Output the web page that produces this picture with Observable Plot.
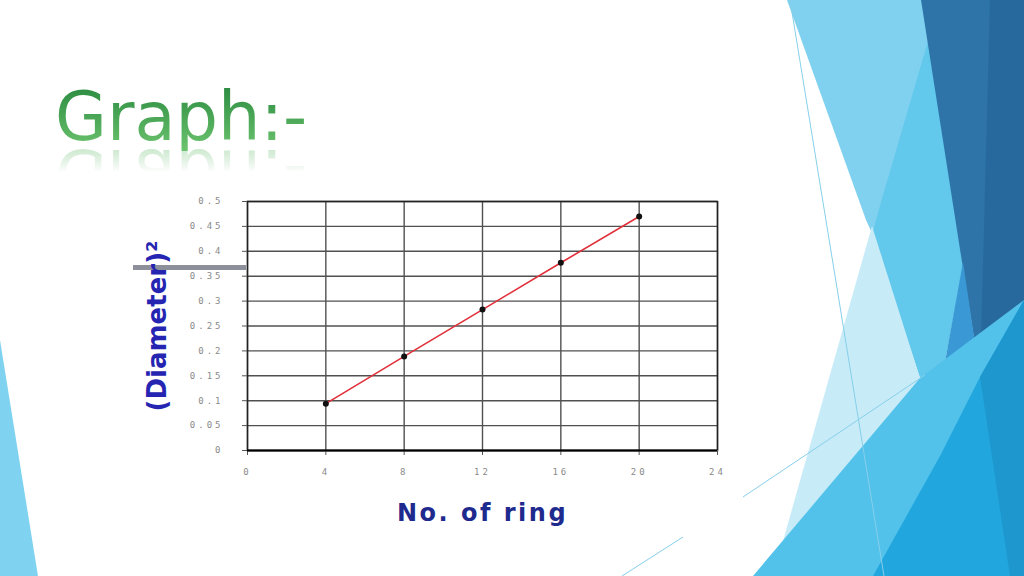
<!DOCTYPE html>
<html>
<head>
<meta charset="utf-8">
<script src="https://cdn.jsdelivr.net/npm/d3@7"></script>
<script src="https://cdn.jsdelivr.net/npm/@observablehq/plot@0.6"></script>
<style>
  html, body { margin: 0; padding: 0; background: #fff; }
  #slide { position: relative; width: 1024px; height: 576px; overflow: hidden; background: #fff; }
  #deco { position: absolute; left: 0; top: 0; }
  .title {
    position: absolute; left: 55px; top: 84px;
    font: 67px/67px "DejaVu Sans", sans-serif;
    background: linear-gradient(#2a8a40, #6cc46e);
    -webkit-background-clip: text; background-clip: text; color: transparent;
    -webkit-box-reflect: below -12px linear-gradient(transparent 50%, rgba(255,255,255,0.45));
  }
  #bar { position: absolute; left: 133px; top: 265px; width: 113px; height: 5px; background: #8d909a; }
  #chart { position: absolute; left: 130px; top: 180px; }
  #chart svg { overflow: visible; }
  #chart [aria-label="y-axis tick label"] text,
  #chart [aria-label="x-axis tick label"] text { font-size: 9px; fill: #8a8a8a; letter-spacing: 3px; font-family: "DejaVu Sans Mono", monospace; }
  #chart [aria-label="x-axis label"] text { font: bold 24px "DejaVu Sans", sans-serif; fill: #1f2a8e; letter-spacing: 2.5px; }
  #chart [aria-label="y-axis label"] text { font: bold 26px "DejaVu Sans", sans-serif; fill: #2525b2; }
</style>
</head>
<body>
<div id="slide">
  <svg id="deco" width="1024" height="576">
    <polygon points="0,340 38,576 0,576" fill="#7fd3f0"/>
    <polygon points="787,0 945,0 872,233 866,220" fill="#80d1ef"/>
    <polygon points="940,0 985,0 963,267 945,362 920,378 872,233" fill="#62c8ec"/>
    <polygon points="921,0 1024,0 1024,300 980,377" fill="#2e74a8"/>
    <polygon points="990,0 1024,0 1024,300 980,377" fill="#28699d"/>
    <polygon points="963,262 980,377 955,432 935,456 945,362" fill="#3a98d4"/>
    <polygon points="872,226 920,378 783,541" fill="#c8ebf8"/>
    <polygon points="753,576 920,378 1024,300 1024,576" fill="#52c2ea"/>
    <polygon points="873,576 940,456 980,377 1024,300 1024,576" fill="#22a6de"/>
    <polygon points="980,377 1024,300 1024,576 1010,576" fill="#1d97cd"/>
    <line x1="790" y1="0" x2="884" y2="576" stroke="#86cfea" stroke-width="1"/>
    <line x1="743" y1="497" x2="925" y2="375" stroke="#86cfea" stroke-width="1"/>
    <line x1="622" y1="576" x2="683" y2="537" stroke="#86cfea" stroke-width="1"/>
  </svg>
  <div class="title">Graph:-</div>
  <div id="bar"></div>
  <div id="chart"></div>
</div>
<script>
const rings = [4, 8, 12, 16, 20];
const diameterSq = [0.094, 0.189, 0.283, 0.377, 0.47];
const xTicks = [0, 4, 8, 12, 16, 20, 24];
const yTicks = [0, 0.05, 0.1, 0.15, 0.2, 0.25, 0.3, 0.35, 0.4, 0.45, 0.5];
const xLabel = "No. of ring";
const yLabel = "(Diameter)²";

const data = rings.map((r, i) => ({ring: r, d2: diameterSq[i]}));

const chart = Plot.plot({
  width: 617,
  height: 360,
  marginLeft: 117,
  marginTop: 21,
  marginRight: 30,
  marginBottom: 90,
  x: {domain: [0, 24]},
  y: {domain: [0, 0.5]},
  style: {background: "transparent", fontFamily: "DejaVu Sans"},
  marks: [
    Plot.gridX(xTicks, {stroke: "#505050", strokeOpacity: 1, strokeWidth: 1.4}),
    Plot.gridY(yTicks, {stroke: "#505050", strokeOpacity: 1, strokeWidth: 1.4}),
    Plot.frame({stroke: "#222", strokeWidth: 1.5}),
    Plot.axisX(xTicks, {tickSize: 5, tickPadding: 13, stroke: "#555", label: xLabel, labelAnchor: "center", labelArrow: "none", labelOffset: 70, tickFormat: d => String(d)}),
    Plot.axisY(yTicks, {tickSize: 5, tickPadding: 19, stroke: "#555", label: yLabel, labelAnchor: "center", labelArrow: "none", labelOffset: 100, tickFormat: d => String(d)}),
    Plot.ruleY([0], {stroke: "#000", strokeWidth: 2}),
    Plot.line(data, {x: "ring", y: "d2", stroke: "#e0303a", strokeWidth: 1.6}),
    Plot.dot(data, {x: "ring", y: "d2", r: 3, fill: "#111"})
  ]
});
document.getElementById("chart").appendChild(chart);
</script>
</body>
</html>
